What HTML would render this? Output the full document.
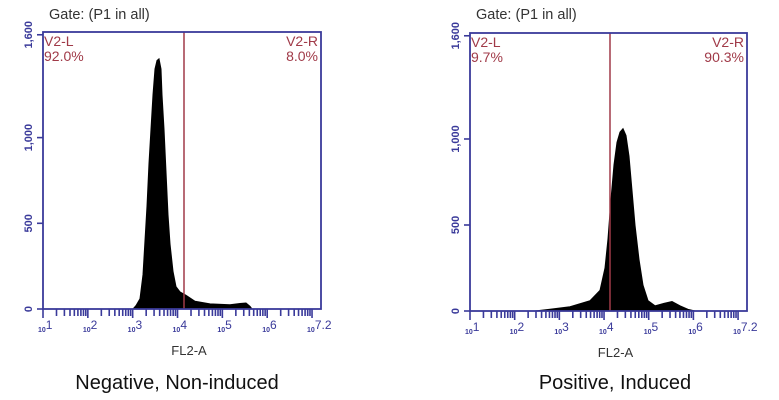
<!DOCTYPE html>
<html><head><meta charset="utf-8"><style>
body{margin:0;background:#fff;width:779px;height:400px;overflow:hidden}
svg{display:block}
text{font-family:"Liberation Sans",sans-serif}
</style></head><body>
<svg id="s" width="779" height="400" xmlns="http://www.w3.org/2000/svg"></svg>
<script>
const s=document.getElementById('s');let h='';
function plot(L,R,T,B,red,pts,lp,rp,cap,cx){
 const k=(B-T)/1600*0.99;
 const dec=(R-L)/6.2;
 h+=`<text x="${L+6}" y="19" font-size="14.5" fill="#333">Gate: (P1 in all)</text>`;
 let d=`M${pts[0][0]},${B}`;pts.forEach(p=>d+=` L${p[0]},${(B-p[1]*k).toFixed(1)}`);d+=` L${pts[pts.length-1][0]},${B}Z`;
 h+=`<path d="${d}" fill="#000" stroke="#000" stroke-width="1"/>`;
 h+=`<line x1="${red}" y1="${T}" x2="${red}" y2="${B}" stroke="#a03a48" stroke-width="1.5"/>`;
 h+=`<rect x="${L}" y="${T}" width="${R-L}" height="${B-T}" fill="none" stroke="#3a3a9a" stroke-width="1.8"/>`;
 [[0,'0'],[500,'500'],[1000,'1,000'],[1600,'1,600']].forEach(([v,t])=>{const y=B-v*k;
  h+=`<line x1="${L-6}" y1="${y}" x2="${L}" y2="${y}" stroke="#3a3a9a" stroke-width="1.6"/>`;
  h+=`<text transform="translate(${L-11},${y}) rotate(-90)" text-anchor="middle" font-size="11" font-weight="bold" fill="#3a3a9a">${t}</text>`;});
 for(let i=0;i<7;i++){for(let j=1;j<10;j++){const x=L+(i+Math.log10(j))*dec;if(x>R)break;
  h+=`<line x1="${x}" y1="${B}" x2="${x}" y2="${B+(j==1?9:7)}" stroke="#3a3a9a" stroke-width="1.6"/>`;}
  const x=L+i*dec;h+=`<text x="${x-5}" y="${B+23}" font-size="7" font-weight="bold" fill="#3a3a9a">10<tspan font-size="12" font-weight="normal" dy="-3">${i==6?'7.2':i+1}</tspan></text>`;}
 h+=`<text x="${(L+R)/2+7}" y="${B+46}" text-anchor="middle" font-size="13" fill="#333">FL2-A</text>`;
 h+=`<text x="${L+1}" y="${T+14}" font-size="14" fill="#a03a48">V2-L</text><text x="${L+1}" y="${T+29}" font-size="14" fill="#a03a48">${lp}</text>`;
 h+=`<text x="${R-3}" y="${T+14}" font-size="14" fill="#a03a48" text-anchor="end">V2-R</text><text x="${R-3}" y="${T+29}" font-size="14" fill="#a03a48" text-anchor="end">${rp}</text>`;
 h+=`<text x="${cx}" y="389" text-anchor="middle" font-size="20" fill="#111">${cap}</text>`;
}
plot(43,321,32,309,184,[[133,0],[136,20],[140,60],[143,200],[145,400],[147,600],[149,850],[151,1050],[153,1250],[155,1400],[157,1450],[159,1460],[161,1400],[162,1250],[164,1050],[166,800],[168,550],[170,380],[173,220],[176,130],[180,100],[186,80],[195,45],[210,30],[230,25],[240,32],[246,35],[250,15],[252,0]],'92.0%','8.0%','Negative, Non-induced',177);
plot(470,747,33,311,610,[[535,0],[550,10],[570,25],[590,60],[600,120],[605,250],[608,420],[611,650],[614,850],[617,980],[620,1040],[623,1060],[626,1020],[629,900],[632,700],[635,500],[639,300],[643,150],[648,60],[655,30],[664,45],[672,55],[680,30],[688,10],[695,0]],'9.7%','90.3%','Positive, Induced',615);
s.innerHTML=h;
</script>
</body></html>
